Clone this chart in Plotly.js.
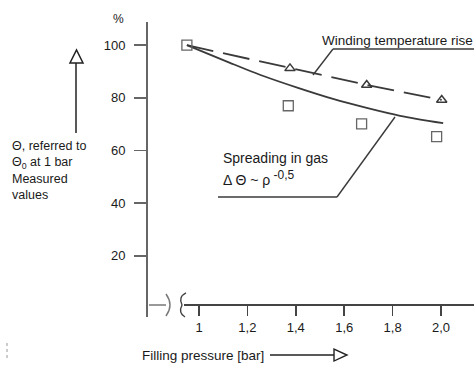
<!DOCTYPE html>
<html>
<head>
<meta charset="utf-8">
<script src="https://cdn.plot.ly/plotly-3.0.1.min.js"></script>
<style>
html,body{margin:0;padding:0;background:#fff;}
#chart{width:474px;height:365px;}
</style>
</head>
<body>
<div id="chart"></div>
<script>
// ---- data ----
const curveP = [0.95, 1.128, 1.266, 1.409, 1.554, 1.693, 1.831, 2.009];
const curveVals = [100, 93.3, 88.3, 83.8, 79.6, 76.2, 73.2, 70.4];
const measuredP = [0.95, 1.369, 1.672, 1.982];
const measuredVals = [100, 77.0, 70.1, 65.3];
const windingP = [0.95, 1.376, 1.693, 2.003];
const windingVals = [100, 91.2, 84.9, 79.2];
const xTickVals = [1, 1.2, 1.4, 1.6, 1.8, 2.0];
const xTickText = ["1", "1,2", "1,4", "1,6", "1,8", "2,0"];
const yTickVals = [20, 40, 60, 80, 100];
const yTickText = ["20", "40", "60", "80", "100"];

// ---- layout helpers (pixel -> paper) ----
const L = 148, T = 22, W = 474 - 148, H = 317 - 22;
const fx = px => (px - L) / W;
const fy = py => (317 - py) / H;
const P = (x, y) => fx(x).toFixed(4) + ',' + fy(y).toFixed(4);

const ink = '#3a3a3a';
const FONT = '"Liberation Sans", Arial, sans-serif';

const traces = [
  { x: curveP, y: curveVals, mode: 'lines', line: { color: ink, width: 1.8, shape: 'spline', smoothing: 0.8 }, hoverinfo: 'skip' },
  { x: windingP, y: windingVals, mode: 'lines', line: { color: ink, width: 1.8, dash: '27px,10px' }, hoverinfo: 'skip' },
  { x: windingP.slice(1), y: windingVals.slice(1), mode: 'markers', marker: { symbol: 'triangle-up-open', size: 9, color: ink, line: { width: 1.5, color: ink } }, hoverinfo: 'skip' },
  { x: measuredP, y: measuredVals, mode: 'markers', marker: { symbol: 'square-open', size: 10, color: '#666', line: { width: 1.3, color: '#666' } }, hoverinfo: 'skip' }
];

const line = (x0, y0, x1, y1, w, c, dash) => ({
  type: 'line', xref: 'paper', yref: 'paper',
  x0: fx(x0), y0: fy(y0), x1: fx(x1), y1: fy(y1),
  line: { color: c || ink, width: w || 1.5, dash: dash || 'solid' }
});
const path = (d, w, c) => ({ type: 'path', xref: 'paper', yref: 'paper', path: d, line: { color: c || ink, width: w || 1.5 } });

const shapes = [
  // x axis line (broken near origin)
  line(184, 305, 474, 305, 1.8, '#444'),
  line(149, 305, 166, 305, 1.5, '#777'),
  path('M ' + P(166, 294) + ' Q ' + P(174, 305) + ' ' + P(166, 316), 1.4, '#777'),
  path('M ' + P(186, 293) + ' Q ' + P(178, 297) + ' ' + P(182, 305) + ' Q ' + P(178, 313) + ' ' + P(185, 317), 1.4, '#444'),
  // leader: winding temperature rise
  line(333, 49, 474, 49, 1.4),
  line(333, 49, 313, 75, 1.4),
  // leader: spreading in gas
  line(218, 197, 337, 197, 1.4),
  line(337, 197, 395, 117, 1.4),
  // left vertical arrow
  line(76, 133, 76, 63, 1.5, '#222'),
  path('M ' + P(70, 63) + ' L ' + P(83, 63) + ' L ' + P(76.5, 50) + ' Z', 1.5, '#222'),
  // bottom horizontal arrow
  line(270, 355, 334, 355, 1.4, '#222'),
  path('M ' + P(334, 349) + ' L ' + P(334, 361) + ' L ' + P(347, 355) + ' Z', 1.4, '#222'),
  // small scan mark bottom-left
  line(7, 343, 7, 360, 1, '#999', 'dot')
];

const ann = (text, x, y, size, xanchor) => ({
  text: text, xref: 'paper', yref: 'paper', x: fx(x), y: fy(y),
  xanchor: xanchor || 'left', yanchor: 'middle', showarrow: false, align: 'left',
  font: { family: FONT, size: size || 13, color: '#1a1a1a' }
});

const annotations = [
  ann('%', 118, 19, 12, 'center'),
  ann('Θ, referred to<br>Θ<sub>0</sub> at 1 bar<br>Measured<br>values', 10, 170, 12.5),
  ann('Winding temperature rise', 320, 40, 13.5),
  ann('Spreading in gas', 221, 158, 14),
  ann('Δ Θ ~ ρ<sup><span style="font-size:12px"> -0,5</span></sup>', 221, 178, 14),
  ann('Filling pressure [bar]', 140, 355, 13.5)
];

const layout = {
  width: 474, height: 365,
  margin: { l: L, r: 0, t: T, b: 365 - 317, pad: 0 },
  paper_bgcolor: '#fff', plot_bgcolor: '#fff',
  showlegend: false,
  font: { family: FONT, color: '#1a1a1a' },
  xaxis: {
    range: [0.7893, 2.1364], anchor: 'free', position: fy(305),
    tickmode: 'array', tickvals: xTickVals, ticktext: xTickText,
    ticks: 'outside', ticklen: 10, tickwidth: 1.5, tickcolor: '#444',
    tickfont: { family: FONT, size: 13, color: '#1a1a1a' },
    showline: false, showgrid: false, zeroline: false, fixedrange: true
  },
  yaxis: {
    range: [-3.2, 108.8],
    tickmode: 'array', tickvals: yTickVals, ticktext: yTickText,
    ticks: 'outside', ticklen: 12, tickwidth: 1.5, tickcolor: '#666',
    ticklabelstandoff: 6,
    tickfont: { family: FONT, size: 13, color: '#1a1a1a' },
    showline: true, linewidth: 2, linecolor: '#666',
    showgrid: false, zeroline: false, fixedrange: true
  },
  shapes: shapes,
  annotations: annotations
};

Plotly.newPlot('chart', traces, layout, { staticPlot: true, displayModeBar: false });
</script>
</body>
</html>
